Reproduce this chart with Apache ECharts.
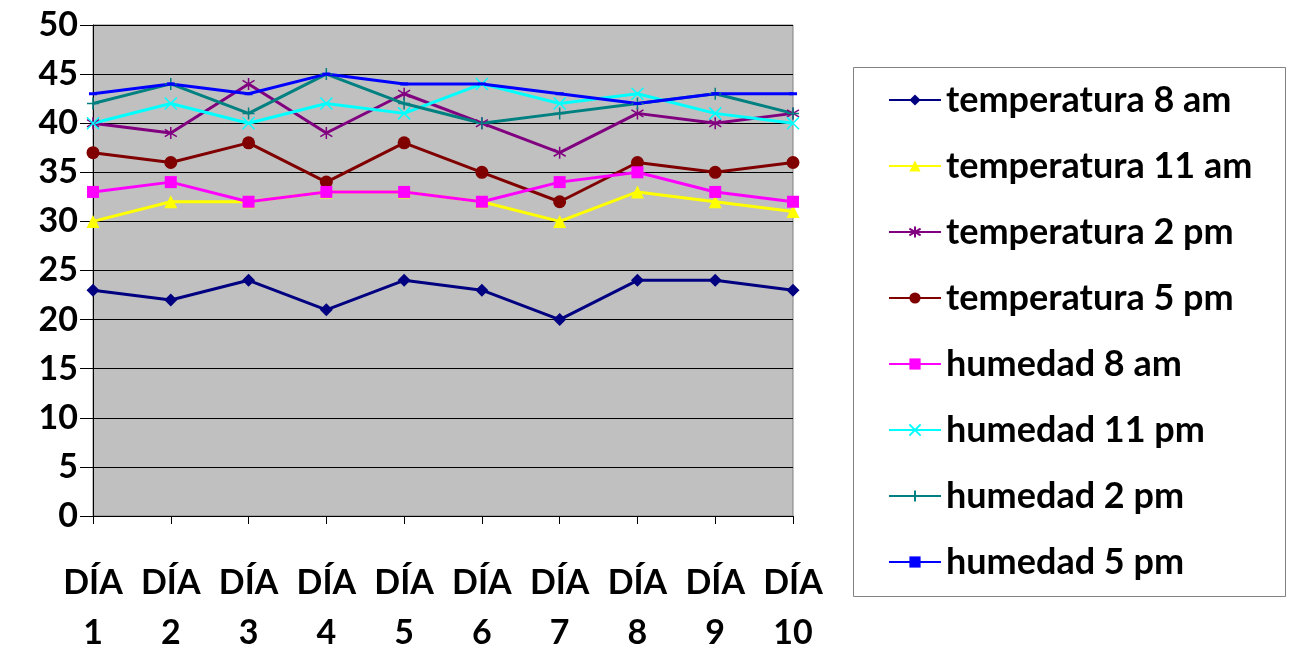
<!DOCTYPE html>
<html><head><meta charset="utf-8">
<script src="https://cdn.jsdelivr.net/npm/echarts@6/dist/echarts.min.js"></script>
<style>html,body{margin:0;padding:0;background:#fff}#c{width:1291px;height:652px}</style>
</head><body><div id="c"></div>
<script>
const categories = ['DÍA\n1','DÍA\n2','DÍA\n3','DÍA\n4','DÍA\n5','DÍA\n6','DÍA\n7','DÍA\n8','DÍA\n9','DÍA\n10'];
const temp8am  = [23,22,24,21,24,23,20,24,24,23];
const temp11am = [30,32,32,33,33,32,30,33,32,31];
const temp2pm  = [40,39,44,39,43,40,37,41,40,41];
const temp5pm  = [37,36,38,34,38,35,32,36,35,36];
const hum8am   = [33,34,32,33,33,32,34,35,33,32];
const hum11pm  = [40,42,40,42,41,44,42,43,41,40];
const hum2pm   = [42,44,41,45,42,40,41,42,43,41];
const hum5pm   = [43,44,43,45,44,44,43,42,43,43];
const yTicks = [0,5,10,15,20,25,30,35,40,45,50];

const FONT = 'Lato';
function mk(name, data, color, symbol, size, stroke) {
  const s = {
    name, type: 'line', data, symbol, symbolSize: size,
    showAllSymbol: true,
    lineStyle: { color, width: 3 },
    itemStyle: { color },
    emphasis: { disabled: true },
    animation: false
  };
  if (stroke) s.itemStyle = { color, borderColor: color, borderWidth: 1.5 };
  return s;
}
const chart = echarts.init(document.getElementById('c'));
chart.setOption({
  backgroundColor: '#fff',
  animation: false,
  grid: { left: 93, right: 498, top: 25, bottom: 136, outerBoundsMode: 'none', containLabel: false, show: true, backgroundColor: '#C0C0C0', borderColor: '#808080', borderWidth: 1 },
  xAxis: {
    type: 'category', data: categories, boundaryGap: false,
    axisLine: { lineStyle: { color: '#000', width: 1 } },
    axisTick: { show: true, length: 8, alignWithLabel: true, lineStyle: { color: '#000' } },
    axisLabel: { color: '#000', fontFamily: FONT, fontWeight: 'bold', fontSize: 34, lineHeight: 50, margin: 42, interval: 0 }
  },
  yAxis: {
    type: 'value', min: 0, max: 50, interval: 5,
    axisLine: { show: true, lineStyle: { color: '#000' } },
    axisTick: { show: true, length: 13, lineStyle: { color: '#000' } },
    splitLine: { lineStyle: { color: '#000', width: 1 } },
    axisLabel: { color: '#000', fontFamily: FONT, fontWeight: 'bold', fontSize: 34, margin: 15,
      formatter: v => yTicks.includes(v) ? String(v) : '' }
  },
  graphic: [{ type: 'rect', left: 853, top: 67, shape: { width: 432, height: 529 }, style: { fill: '#fff', stroke: '#808080', lineWidth: 1 }, z: -1 }],
  legend: {
    orient: 'vertical', left: 888, top: 82, padding: 0, itemGap: 30, itemWidth: 52, itemHeight: 14,
    textStyle: { color: '#000', fontFamily: FONT, fontWeight: 'bold', fontSize: 36, lineHeight: 36, padding: [0,0,0,0] },
    selectedMode: false
  },
  series: [
    mk('temperatura 8 am', temp8am, '#000080', 'diamond', 13),
    mk('temperatura 11 am', temp11am, '#FFFF00', 'triangle', 13),
    mk('temperatura 2 pm', temp2pm, '#800080', 'path://M5,0L5,10M0,2L10,8M0,8L10,2', 12, true),
    mk('temperatura 5 pm', temp5pm, '#800000', 'circle', 13),
    mk('humedad 8 am', hum8am, '#FF00FF', 'rect', 12),
    mk('humedad 11 pm', hum11pm, '#00FFFF', 'path://M0,0L10,10M0,10L10,0', 12, true),
    mk('humedad 2 pm', hum2pm, '#008080', 'path://M5,0L5,10M0,5L10,5', 12, true),
    mk('humedad 5 pm', hum5pm, '#0000FF', 'rect', [8,3])
  ]
});
</script></body></html>
